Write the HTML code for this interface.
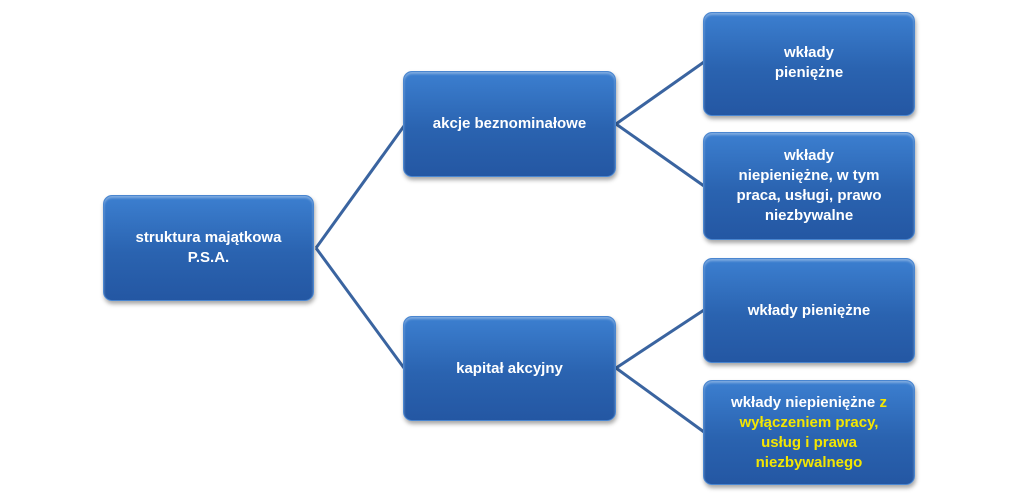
<!DOCTYPE html>
<html><head><meta charset="utf-8"><style>
body{margin:0;width:1024px;height:496px;background:#fff;position:relative;overflow:hidden;font-family:"Liberation Sans",sans-serif}
.b{position:absolute;box-sizing:border-box;border-radius:9px;background:linear-gradient(#3c7fd0,#2a63b0 55%,#2457a3);border:1px solid #4a86d0;box-shadow:1px 3px 4px rgba(0,0,0,.35), inset 0 2px 2px rgba(255,255,255,.35);color:#fff;font-weight:bold;font-size:15px;line-height:20px;display:flex;align-items:center;justify-content:center;text-align:center}
.y{color:#f4e600}
svg{position:absolute;left:0;top:0}
</style></head><body>
<svg width="1024" height="496"><g stroke="#3a64a0" stroke-width="3" fill="none">
<path d="M316 248 L404 126"/><path d="M316 248 L404 368"/>
<path d="M616 124 L704 62"/><path d="M616 124 L704 186"/>
<path d="M616 368 L704 310"/><path d="M616 368 L704 432"/>
</g></svg>
<div class="b" style="left:103px;top:195px;width:211px;height:106px"><div>struktura majątkowa<br>P.S.A.</div></div>
<div class="b" style="left:403px;top:71px;width:213px;height:106px"><div>akcje beznominałowe</div></div>
<div class="b" style="left:403px;top:316px;width:213px;height:105px"><div>kapitał akcyjny</div></div>
<div class="b" style="left:703px;top:12px;width:212px;height:104px;align-items:flex-start;padding-top:30px"><div>wkłady<br>pieniężne</div></div>
<div class="b" style="left:703px;top:132px;width:212px;height:108px"><div>wkłady<br>niepieniężne, w tym<br>praca, usługi, prawo<br>niezbywalne</div></div>
<div class="b" style="left:703px;top:258px;width:212px;height:105px;align-items:flex-start;padding-top:42px"><div>wkłady pieniężne</div></div>
<div class="b" style="left:703px;top:380px;width:212px;height:105px"><div>wkłady niepieniężne <span class="y">z</span><br><span class="y">wyłączeniem pracy,<br>usług i prawa<br>niezbywalnego</span></div></div>
</body></html>
